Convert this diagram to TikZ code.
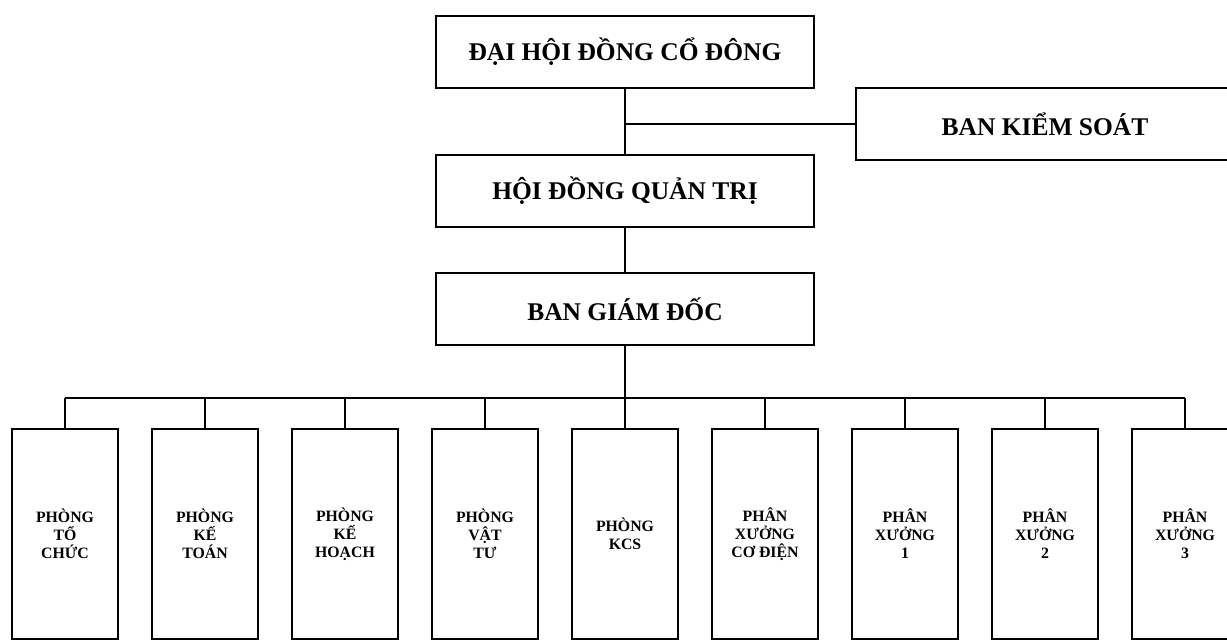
\documentclass[tikz,border=0pt]{standalone}
\usepackage{fontspec}
\setmainfont{Liberation Serif}
\usetikzlibrary{positioning}

\begin{document}
\begin{tikzpicture}[
    x=0.02cm, y=-0.02cm,
    box/.style={rectangle, draw, line width=0.9pt, font=\bfseries\fontsize{14.5}{17}\selectfont, minimum height=1.43cm},
    board box/.style={box, minimum width=7.56cm},
    control box/.style={box, minimum width=7.56cm},
    unit box/.style={box, font=\bfseries\fontsize{9}{10.3}\selectfont, align=center, minimum width=2.12cm, minimum height=4.2cm, inner sep=1pt},
    connection/.style={-, line width=0.6pt}
]
\useasboundingbox (0,0) rectangle (1227,644);

% Board level
\node[board box] (DHDCD) at (625,52) {ĐẠI HỘI ĐỒNG CỔ ĐÔNG};
\node[board box] (HDQT) at (625,191) {HỘI ĐỒNG QUẢN TRỊ};
\node[board box] (BGD) at (625,309) {BAN GIÁM ĐỐC};
\node[control box] (BKS) at (1045,124) {BAN KIỂM SOÁT};

% Spine and bus
\coordinate (spine) at (625,0);
\coordinate (bus) at (0,398);
\draw[connection] (DHDCD.south -| spine) -- (HDQT.north -| spine);
\draw[connection] (HDQT.south -| spine) -- (BGD.north -| spine);
\draw[connection] (spine |- BKS.west) -- (BKS.west);

% Units
\foreach \txt [count=\i] in {{PHÒNG\\TỔ\\CHỨC}, {PHÒNG\\KẾ\\TOÁN}, {PHÒNG\\KẾ\\HOẠCH}, {PHÒNG\\VẬT\\TƯ}, {PHÒNG\\KCS}, {PHÂN\\XƯỞNG\\CƠ ĐIỆN}, {PHÂN\\XƯỞNG\\1}, {PHÂN\\XƯỞNG\\2}, {PHÂN\\XƯỞNG\\3}} {
    \node[unit box] (U\i) at ({65+140*(\i-1)},534) {\txt};
    \draw[connection] (U\i.north) -- (U\i.north |- bus);
}
\draw[connection] (U1.north |- bus) -- (U9.north |- bus);
\draw[connection] (BGD.south -| spine) -- (spine |- bus);

\end{tikzpicture}
\end{document}
